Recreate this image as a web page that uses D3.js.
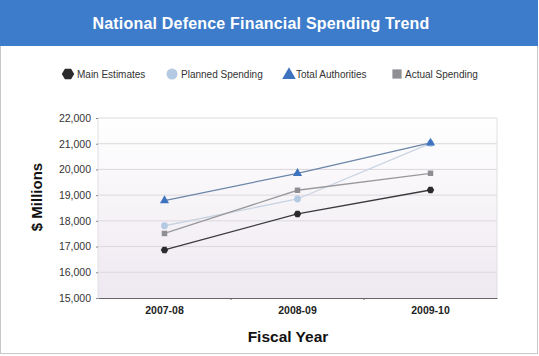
<!DOCTYPE html>
<html><head><meta charset="utf-8">
<script src="https://cdn.jsdelivr.net/npm/d3@7"></script>
<style>body{margin:0;background:#fff;font-family:"Liberation Sans",Arial,sans-serif;}</style>
</head><body><svg id="c" width="539" height="356"></svg>
<script>
const categories = ["2007-08","2008-09","2009-10"];
const mainEstimates = [16870, 18270, 19200];
const plannedSpending = [17810, 18850, 21010];
const totalAuthorities = [18790, 19850, 21030];
const actualSpending = [17510, 19190, 19850];
const yTicks = [15000,16000,17000,18000,19000,20000,21000,22000];
const seriesNames = ["Main Estimates","Planned Spending","Total Authorities","Actual Spending"];

const series = [
  {name: seriesNames[0], values: mainEstimates, line:"#3a3a3e", fill:"#2b2b2e", sym:"hex"},
  {name: seriesNames[1], values: plannedSpending, line:"#c8d4e2", fill:"#b4c9e2", sym:"circle"},
  {name: seriesNames[2], values: totalAuthorities, line:"#6b86a8", fill:"#3e73bf", sym:"tri"},
  {name: seriesNames[3], values: actualSpending, line:"#9a9a9e", fill:"#8f8f93", sym:"square"}
];

const svg = d3.select("#c");
svg.append("rect").attr("x",0.5).attr("y",0.5).attr("width",537).attr("height",353).attr("fill","#fff").attr("stroke","#c8c8c8");
svg.append("rect").attr("x",0).attr("y",0).attr("width",538).attr("height",46).attr("fill","#3d7cca");
svg.append("text").attr("x",261).attr("y",28.5).attr("text-anchor","middle").attr("fill","#fff")
  .attr("font-size",16).attr("font-weight","bold").attr("letter-spacing",0.2).text("National Defence Financial Spending Trend");

const m = {l:98, r:497, t:118, b:298};
const x = d3.scaleBand().domain(categories).range([m.l, m.r]);
const y = d3.scaleLinear().domain([15000,22000]).range([m.b, m.t]);

const defs = svg.append("defs");
const g = defs.append("linearGradient").attr("id","bg").attr("x1",0).attr("y1",0).attr("x2",0).attr("y2",1);
g.append("stop").attr("offset","0%").attr("stop-color","#ffffff");
g.append("stop").attr("offset","100%").attr("stop-color","#eee8f0");
svg.append("rect").attr("x",m.l).attr("y",m.t).attr("width",m.r-m.l).attr("height",m.b-m.t).attr("fill","url(#bg)");

svg.append("g").selectAll("line").data(yTicks.slice(1)).join("line")
  .attr("x1",m.l).attr("x2",m.r).attr("y1",d=>y(d)).attr("y2",d=>y(d))
  .attr("stroke","#dcd8de").attr("stroke-width",1);
svg.append("line").attr("x1",m.l).attr("x2",m.l).attr("y1",m.t).attr("y2",m.b).attr("stroke","#e2dee4");
svg.append("line").attr("x1",m.r).attr("x2",m.r).attr("y1",m.t).attr("y2",m.b).attr("stroke","#e2dee4");

const ya = svg.append("g").attr("transform",`translate(${m.l},0)`)
  .call(d3.axisLeft(y).tickValues(yTicks).tickFormat(d3.format(",")).tickSize(2).tickPadding(5));
ya.select(".domain").remove();
ya.selectAll("line").attr("stroke","#888");
ya.selectAll("text").attr("font-size",10.5).attr("fill","#333").attr("font-family","Liberation Sans, Arial, sans-serif");

const xa = svg.append("g").attr("transform",`translate(0,${m.b})`)
  .call(d3.axisBottom(x).tickSize(0).tickPadding(9));
xa.select(".domain").attr("stroke","#666").attr("stroke-width",1.2);
xa.selectAll("text").attr("font-size",10.5).attr("font-weight","bold").attr("fill","#222").attr("font-family","Liberation Sans, Arial, sans-serif");
svg.append("g").selectAll("line").data(categories.slice(1)).join("line")
  .attr("x1",d=>x(d)).attr("x2",d=>x(d)).attr("y1",m.b).attr("y2",m.b+2).attr("stroke","#666");

svg.append("text").attr("transform","translate(42,197) rotate(-90)").attr("text-anchor","middle")
  .attr("font-size",15).attr("font-weight","bold").attr("fill","#111").text("$ Millions");
svg.append("text").attr("x",288).attr("y",342).attr("text-anchor","middle")
  .attr("font-size",15.5).attr("font-weight","bold").attr("fill","#111").text("Fiscal Year");

function symPath(sym, size){
  if(sym==="hex") return d3.symbol().type({draw(ctx,s){const r=Math.sqrt(s/2.6);for(let i=0;i<6;i++){const a=Math.PI/3*i;const px=r*Math.cos(a),py=r*Math.sin(a);i?ctx.lineTo(px,py):ctx.moveTo(px,py);}ctx.closePath();}}).size(size)();
  if(sym==="circle") return d3.symbol().type(d3.symbolCircle).size(size)();
  if(sym==="tri") return d3.symbol().type(d3.symbolTriangle).size(size)();
  return d3.symbol().type(d3.symbolSquare).size(size)();
}

const cx = d => x(d) + x.bandwidth()/2;
const line = d3.line().x((d,i)=>cx(categories[i])).y(d=>y(d));
series.forEach(s=>{
  svg.append("path").datum(s.values).attr("d",line).attr("fill","none").attr("stroke",s.line).attr("stroke-width",1.3);
});
series.forEach(s=>{
  svg.append("g").selectAll("path").data(s.values).join("path")
    .attr("d",symPath(s.sym, s.sym==="square"?30:36)).attr("transform",(d,i)=>`translate(${cx(categories[i])},${y(d)})`)
    .attr("fill",s.fill);
});

const legX = [[68,77],[172,181],[289,296],[397,405]];
const legSize = {hex:100, circle:95, tri:80, square:85};
series.forEach((s,i)=>{
  svg.append("path").attr("d",symPath(s.sym, legSize[s.sym]))
    .attr("transform",`translate(${legX[i][0]},${s.sym==="tri"?75:74})`).attr("fill",s.fill);
  svg.append("text").attr("x",legX[i][1]).attr("y",77.5).attr("font-size",10).attr("fill","#333").text(s.name);
});
</script></body></html>
